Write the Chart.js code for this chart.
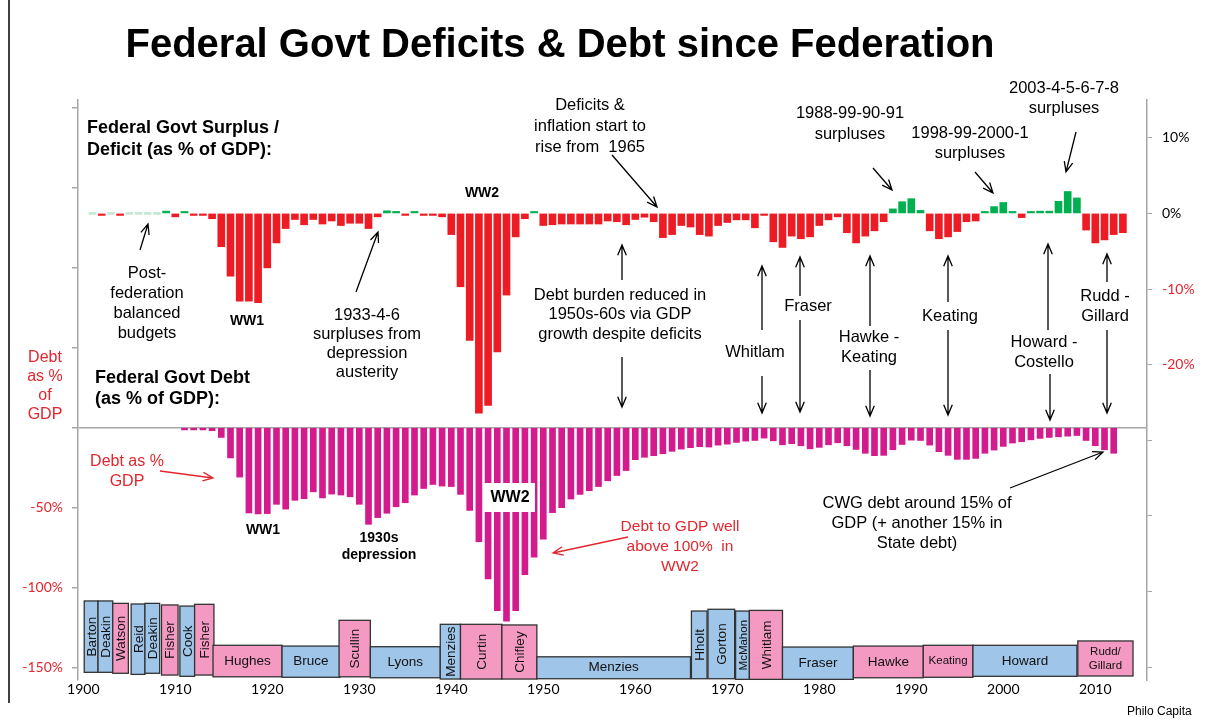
<!DOCTYPE html>
<html>
<head>
<meta charset="utf-8">
<title>Federal Govt Deficits & Debt since Federation</title>
<script src="https://cdn.jsdelivr.net/npm/chart.js@4.4.1/dist/chart.umd.min.js"></script>
<style>
  html, body { margin: 0; padding: 0; background: #fff; }
  #wrap { width: 1208px; height: 722px; position: relative; }
</style>
</head>
<body>
<div id="wrap"><canvas id="chart" width="1208" height="722"></canvas></div>
<script>
// surplus (+) / deficit (-) as % of GDP, one value per year from 1901
const balanceStart = 1901;
const balancePct = [
  0, -0.1, 0, -0.1, 0, 0, 0, 0, 0.3, -0.45,
  0.1, -0.2, -0.1, -0.7, -4.4, -8.3, -11.6, -11.6, -11.8, -7.2,
  -3.9, -2.0, -0.8, -1.5, -0.8, -1.4, -1.0, -1.6, -1.3, -1.3,
  -2.0, -0.45, 0.35, 0.1, -0.25, 0.15, -0.1, -0.1, -0.45, -2.8,
  -9.7, -16.8, -26.4, -25.4, -18.3, -10.8, -3.1, -0.7, 0.15, -1.6,
  -1.5, -1.4, -1.4, -1.4, -1.4, -1.4, -1.0, -1.1, -1.5, -0.8,
  -0.5, -1.1, -3.2, -2.8, -1.6, -1.8, -2.8, -3.0, -1.6, -1.2,
  -0.85, -0.85, -1.9, -0.2, -3.75, -4.5, -3.0, -3.35, -3.1, -1.6,
  -0.85, -0.45, -2.55, -3.9, -3.0, -2.3, -1.1, 0.6, 1.55, 1.95,
  0.4, -2.3, -3.35, -3.1, -2.4, -1.1, -1.0, 0.18, 0.9, 1.45,
  0.18, -0.55, 0.13, 0.3, 0.3, 1.6, 2.9, 2.05, -2.2, -3.9,
  -3.5, -2.8, -2.55
];

// federal govt debt as % of GDP, one value per year from 1911
const debtStart = 1911;
const debtPct = [
  1.5, 1.5, 1.5, 2.0, 6.2, 19, 31, 53.4, 54, 53.8,
  48, 51, 45.5, 44.5, 40.2, 44, 41.6, 42.2, 43.3, 48,
  60.5, 56.3, 53.6, 49.5, 47, 42.2, 38.1, 35.6, 36.6, 36.9,
  41.8, 51.8, 71.4, 94.6, 114.5, 121, 114.5, 92, 81, 69.8,
  53.2, 50.1, 44.7, 41.8, 39.5, 36.9, 33.3, 30.0, 26.9, 20.1,
  18.6, 17.6, 16.4, 14.9, 13.5, 12.6, 12.0, 12.2, 11.0, 10.4,
  9.3, 8.5, 8.1, 6.6, 8.3, 10.8, 10.1, 11.4, 13.3, 12.4,
  10.8, 9.5, 11.4, 13.7, 16.1, 17.6, 17.4, 13.9, 10.6, 7.9,
  8.1, 11.0, 15.1, 17.4, 19.9, 19.9, 19.3, 16.1, 14.1, 11.8,
  9.7, 8.9, 7.7, 6.8, 6.2, 5.8, 5.4, 5.0, 8.1, 11.4,
  13.9, 16.1
];

// prime ministers strip: years on x, box top/bottom on the debt axis
const pmNames = ["Barton", "Deakin", "Watson", "Reid", "Deakin", "Fisher", "Cook", "Fisher",
  "Hughes", "Bruce", "Scullin", "Lyons", "Menzies", "Curtin", "Chifley", "Menzies",
  "Hholt", "Gorton", "McMahon", "Whitlam", "Fraser", "Hawke", "Keating", "Howard", "Rudd/\nGillard"];
const pmParty = ["L", "L", "A", "L", "L", "A", "L", "A",
  "A", "L", "A", "L", "L", "A", "A", "L",
  "L", "L", "L", "A", "L", "A", "A", "L", "A"];
const pmFrom = [1900.1, 1901.6, 1903.2, 1905.2, 1906.7, 1908.5, 1910.5, 1912.1,
  1914.1, 1921.6, 1927.8, 1931.2, 1938.8, 1941.0, 1945.5, 1949.3,
  1966.1, 1967.9, 1970.9, 1972.4, 1976.0, 1983.7, 1991.3, 1996.7, 2008.1];
const pmTo = [1901.6, 1903.2, 1904.9, 1906.7, 1908.3, 1910.3, 1912.1, 1914.2,
  1921.6, 1927.9, 1931.2, 1938.8, 1941.0, 1945.5, 1949.3, 1966.0,
  1967.8, 1970.8, 1972.4, 1976.0, 1983.7, 1991.3, 1996.7, 2008.0, 2014.1];
const pmTop = [-108.4, -108.4, -109.9, -110.3, -109.9, -110.9, -111.6, -110.5,
  -136.1, -136.6, -120.5, -137, -123, -123, -123.4, -143.3,
  -114.7, -113.6, -114.7, -114.3, -137.2, -136.6, -136.1, -136.1, -133.4];
const pmBottom = [-153, -153, -153.6, -154.3, -153.6, -154.7, -155.5, -154.7,
  -155.8, -156.1, -155.8, -156.4, -157.2, -157.2, -157.2, -157,
  -157, -157, -157.4, -157.4, -157.4, -156.4, -156.1, -155.5, -155.3];

const RED = "#ed1c24";
const GREEN = "#00b050";
const PALE = "#c4e9d3";
const MAGENTA = "#d31b8e";
const TXT_RED = "#e3262e";
const AXIS = "#a6a6a6";
const BLUE_BOX = "#9fc5e8";
const PINK_BOX = "#f49ac2";
const SANS = "'Liberation Sans', Arial, sans-serif";

function drawArrow(ctx, x1, y1, x2, y2, color) {
  const a = Math.atan2(y2 - y1, x2 - x1);
  const h = 11, s = 0.4;
  ctx.save();
  ctx.strokeStyle = color;
  ctx.lineWidth = 1.3;
  ctx.beginPath();
  ctx.moveTo(x1, y1);
  ctx.lineTo(x2, y2);
  ctx.moveTo(x2 - h * Math.cos(a - s), y2 - h * Math.sin(a - s));
  ctx.lineTo(x2, y2);
  ctx.lineTo(x2 - h * Math.cos(a + s), y2 - h * Math.sin(a + s));
  ctx.stroke();
  ctx.restore();
}

function drawLines(ctx, lines, x, y, step, font, color, align) {
  ctx.save();
  ctx.font = font;
  ctx.fillStyle = color;
  ctx.textAlign = align || "center";
  ctx.textBaseline = "middle";
  lines.forEach((t, i) => ctx.fillText(t, x, y + i * step));
  ctx.restore();
}

// annotation texts: [lines, x, y of first line, line step, font, colour, align]
const notes = [
  [["Federal Govt Surplus /", "Deficit (as % of GDP):"], 87, 128, 22, "bold 18px " + SANS, "#000", "left"],
  [["Debt", "as %", "of", "GDP"], 45, 358, 19, "16px " + SANS, TXT_RED, "center"],
  [["Federal Govt Debt", "(as % of GDP):"], 95, 378, 21, "bold 18px " + SANS, "#000", "left"],
  [["Post-", "federation", "balanced", "budgets"], 147, 273, 20, "16.5px " + SANS, "#000", "center"],
  [["WW1"], 247, 321, 0, "bold 14px " + SANS, "#000", "center"],
  [["1933-4-6", "surpluses from", "depression", "austerity"], 367, 315, 19, "16.5px " + SANS, "#000", "center"],
  [["WW2"], 482, 193, 0, "bold 14px " + SANS, "#000", "center"],
  [["Deficits &", "inflation start to", "rise from  1965"], 590, 105, 21, "16.5px " + SANS, "#000", "center"],
  [["Debt burden reduced in", "1950s-60s via GDP", "growth despite deficits"], 620, 295, 19.5, "16.5px " + SANS, "#000", "center"],
  [["1988-99-90-91", "surpluses"], 850, 113, 21, "16.5px " + SANS, "#000", "center"],
  [["1998-99-2000-1", "surpluses"], 970, 133, 20, "16.5px " + SANS, "#000", "center"],
  [["2003-4-5-6-7-8", "surpluses"], 1064, 88, 20, "16.5px " + SANS, "#000", "center"],
  [["Whitlam"], 755, 352, 0, "16.5px " + SANS, "#000", "center"],
  [["Fraser"], 808, 306, 0, "16.5px " + SANS, "#000", "center"],
  [["Hawke -", "Keating"], 869, 337, 20, "16.5px " + SANS, "#000", "center"],
  [["Keating"], 950, 316, 0, "16.5px " + SANS, "#000", "center"],
  [["Howard -", "Costello"], 1044, 342, 20, "16.5px " + SANS, "#000", "center"],
  [["Rudd -", "Gillard"], 1105, 296, 20, "16.5px " + SANS, "#000", "center"],
  [["Debt as %", "GDP"], 127, 462, 20, "16px " + SANS, TXT_RED, "center"],
  [["WW1"], 263, 530, 0, "bold 14px " + SANS, "#000", "center"],
  [["1930s", "depression"], 379, 538, 17, "bold 14px " + SANS, "#000", "center"],
  [["Debt to GDP well", "above 100%  in", "WW2"], 680, 527, 20, "15.5px " + SANS, TXT_RED, "center"],
  [["CWG debt around 15% of", "GDP (+ another 15% in", "State debt)"], 917, 503, 20, "16.5px " + SANS, "#000", "center"],
  [["Philo Capita"], 1127, 712, 0, "12px " + SANS, "#000", "left"]
];

// arrows: [x1, y1, x2 (head), y2 (head), colour]
const arrows = [
  [140, 250, 148, 224, "#000"],
  [356, 292, 378, 232, "#000"],
  [612, 155, 657, 207, "#000"],
  [622, 280, 622, 245, "#000"],
  [622, 357, 622, 407, "#000"],
  [873, 168, 892, 190, "#000"],
  [975, 172, 993, 193, "#000"],
  [1076, 132, 1066, 172, "#000"],
  [762, 330, 762, 266, "#000"],
  [762, 376, 762, 413, "#000"],
  [800, 296, 800, 257, "#000"],
  [800, 320, 800, 412, "#000"],
  [870, 326, 870, 256, "#000"],
  [870, 370, 870, 416, "#000"],
  [948, 302, 948, 256, "#000"],
  [948, 330, 948, 415, "#000"],
  [1048, 330, 1048, 244, "#000"],
  [1050, 374, 1050, 420, "#000"],
  [1107, 282, 1107, 254, "#000"],
  [1107, 330, 1107, 413, "#000"],
  [160, 471, 213, 478, TXT_RED],
  [628, 537, 553, 553, TXT_RED],
  [1010, 488, 1103, 452, "#000"]
];

const pmPlugin = {
  id: "pmBoxes",
  afterDatasetsDraw(chart) {
    const { ctx, scales } = chart;
    const x = scales.x, y = scales.y;
    pmNames.forEach((name, i) => {
      const x0 = x.getPixelForValue(pmFrom[i]), x1 = x.getPixelForValue(pmTo[i]);
      const y0 = y.getPixelForValue(pmTop[i]), y1 = y.getPixelForValue(pmBottom[i]);
      ctx.save();
      ctx.fillStyle = pmParty[i] === "A" ? PINK_BOX : BLUE_BOX;
      ctx.fillRect(x0, y0, x1 - x0, y1 - y0);
      ctx.strokeStyle = "#333";
      ctx.lineWidth = 1.3;
      ctx.strokeRect(x0, y0, x1 - x0, y1 - y0);
      const small = name === "McMahon" || name === "Keating" || name.indexOf("/") > 0;
      ctx.fillStyle = "#111";
      ctx.font = (small ? "11.5px " : "13.5px ") + SANS;
      ctx.textAlign = "center";
      ctx.textBaseline = "middle";
      const cx = (x0 + x1) / 2, cy = (y0 + y1) / 2;
      if (x1 - x0 < 45) {
        ctx.translate(cx + 1, cy);
        ctx.rotate(-Math.PI / 2);
        ctx.fillText(name, 0, 0);
      } else {
        const parts = name.split("\n");
        parts.forEach((p, k) => ctx.fillText(p, cx, cy + (k - (parts.length - 1) / 2) * 14));
      }
      ctx.restore();
    });

    // white label box over the WW2 debt bars
    ctx.save();
    ctx.fillStyle = "#fff";
    ctx.fillRect(483, 483, 52, 29);
    ctx.restore();
    drawLines(ctx, ["WW2"], 510, 498, 0, "bold 16px " + SANS, "#000", "center");
  },
  afterDraw(chart) {
    const ctx = chart.ctx;
    // slide frame
    ctx.save();
    ctx.strokeStyle = "#000";
    ctx.lineWidth = 1.5;
    ctx.beginPath();
    ctx.moveTo(9, 0);
    ctx.lineTo(9, 703);
    ctx.stroke();
    ctx.restore();

    drawLines(ctx, ["Federal Govt Deficits & Debt since Federation"], 560, 46, 0, "bold 40px " + SANS, "#000", "center");
    notes.forEach(n => drawLines(ctx, n[0], n[1], n[2], n[3], n[4], n[5], n[6]));
    arrows.forEach(a => drawArrow(ctx, a[0], a[1], a[2], a[3], a[4]));
  }
};

const ctx = document.getElementById("chart").getContext("2d");

new Chart(ctx, {
  type: "bar",
  data: {
    datasets: [
      {
        label: "Surplus / Deficit",
        yAxisID: "y2",
        data: balancePct.map((v, i) => ({ x: balanceStart + i, y: v })),
        backgroundColor: balancePct.map(v => v > 0.05 ? GREEN : v === 0 ? PALE : RED),
        barThickness: 7,
        minBarLength: 2,
        grouped: false,
        borderWidth: 0
      },
      {
        label: "Debt",
        yAxisID: "y",
        data: debtPct.map((v, i) => ({ x: debtStart + i, y: -v })),
        backgroundColor: MAGENTA,
        barThickness: 6,
        grouped: false,
        borderWidth: 0
      }
    ]
  },
  options: {
    responsive: false,
    animation: false,
    devicePixelRatio: 1,
    layout: { padding: { top: 100, left: 0, right: 0, bottom: 0 } },
    plugins: { legend: { display: false }, tooltip: { enabled: false } },
    scales: {
      x: {
        type: "linear",
        offset: false,
        min: 1899.424,
        max: 2015.62,
        grid: { display: false, drawTicks: false, offset: false },
        border: { display: false },
        ticks: {
          stepSize: 10,
          includeBounds: false,
          maxRotation: 0,
          padding: 1,
          color: "#000",
          font: { family: "Lato", size: 14 },
          callback: v => String(v)
        },
        afterFit: s => { s.height = 42; }
      },
      y: {
        position: "left",
        min: -157.8,
        max: 204.7,
        border: { display: true, color: AXIS, width: 1.5 },
        grid: {
          drawOnChartArea: true,
          color: c => (c.tick && c.tick.value === 0) ? AXIS : "rgba(0,0,0,0)",
          lineWidth: 1.5,
          tickColor: AXIS,
          tickLength: 6
        },
        ticks: {
          stepSize: 50,
          includeBounds: false,
          padding: 9,
          color: TXT_RED,
          font: { family: "Lato", size: 14 },
          callback: v => v < 0 ? v + "%" : ""
        },
        afterFit: s => { s.width = 78; }
      },
      y2: {
        position: "right",
        min: -61.7,
        max: 15,
        border: { display: true, color: AXIS, width: 1.5 },
        grid: { drawOnChartArea: false, tickColor: AXIS, tickLength: 5 },
        ticks: {
          stepSize: 10,
          includeBounds: false,
          padding: 10,
          color: c => c.tick.value < 0 ? TXT_RED : "#000",
          font: { family: "Lato", size: 14 },
          callback: v => v >= -20 ? v + "%" : ""
        },
        afterFit: s => { s.width = 61; }
      }
    }
  },
  plugins: [pmPlugin]
});
</script>
</body>
</html>
